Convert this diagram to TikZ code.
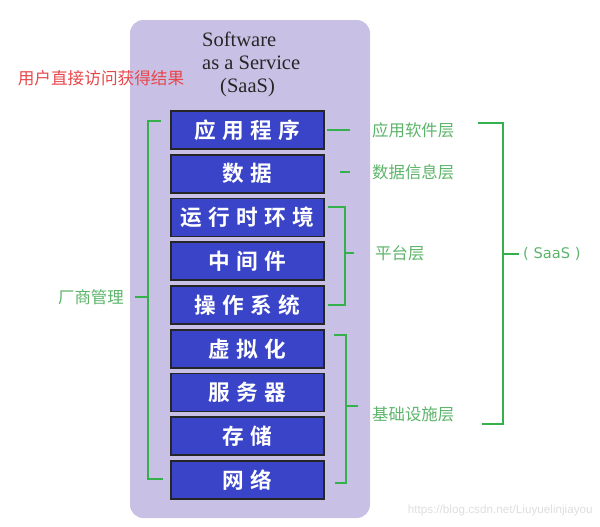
\documentclass[tikz,border=0pt]{standalone}
\usepackage{fontspec}
\setmainfont{Liberation Serif}
\newfontfamily\cjk{Noto Sans CJK SC}
\newfontfamily\cjkbold[LetterSpace=30]{Noto Sans CJK SC Bold}
\newfontfamily\saasfont{DejaVu Sans}
\newfontfamily\markfont{Liberation Sans}
\definecolor{panelpurple}{RGB}{201,193,229}
\definecolor{layerblue}{RGB}{58,68,200}
\definecolor{bracegreen}{RGB}{52,176,76}
\definecolor{labelgreen}{RGB}{92,180,106}
\definecolor{userred}{RGB}{232,70,74}

\begin{document}
\begin{tikzpicture}
  [x=0.03cm,y=-0.03cm,every node/.style={inner sep=0pt}]
  \tikzstyle{layer} = [draw=black!85,line width=1.5pt,fill=layerblue,
    minimum width=4.59cm,minimum height=1.14cm,text=white,
    font=\cjkbold\fontsize{18.5}{18.5}\selectfont]
  \tikzstyle{tier} = [text=labelgreen,anchor=west,
    font=\cjk\fontsize{14}{14}\selectfont]
  \tikzstyle{brace} = [draw=bracegreen,line width=1.8pt]
  \useasboundingbox (0,0) rectangle (600,526);
  \fill[panelpurple,rounded corners=0.4cm] (130,20) rectangle (370,518);
  \node[align=left,anchor=west,text=black!85,font=\fontsize{17.5}{19.6}\selectfont] (title)
    at (202,64) {Software\\as a Service\\\hspace*{0.54cm}(SaaS)};
  \node[text=userred,font=\cjk\fontsize{14.2}{14.2}\selectfont] (user) at (101,78)
    {用户直接访问获得结果};
  % the nine layers
  \foreach \name/\text [count=\i from 0] in {b1/应用程序,b2/数据,b3/运行时环境,
      b4/中间件,b5/操作系统,b6/虚拟化,b7/服务器,b8/存储,b9/网络}
    \node[layer] (\name) at (247.5,{130+43.75*\i}) {\text};

  % vendor side
  \node[tier,anchor=east] (vendor) at (124,297) {厂商管理};
  \coordinate (vt) at (148,121);
  \coordinate (vb) at (148,479);
  \draw[brace] ([xshift=-8]b1.west |- vt) -- (vt) -- (vb) -- ([xshift=-6]b9.west |- vb);
  \draw[brace] ([xshift=0.33cm]vendor.east) -- (vt |- vendor.east);

  % layer names
  \node[tier] (app) at (372,130) {应用软件层};
  \node[tier] (data) at (372,172) {数据信息层};
  \node[tier] (plat) at (375,253) {平台层};
  \node[tier] (infra) at (372,414) {基础设施层};
  \draw[brace] ([xshift=2]b1.east |- app.west) -- ([xshift=-19]app.west);
  \draw[brace] ([xshift=13]b2.east |- data.west) -- ([xshift=-19]data.west);

  \coordinate (pt) at (345,207);
  \coordinate (pb) at (345,305);
  \draw[brace] ([xshift=3]b3.east |- pt) -- (pt) -- (pb) -- ([xshift=3]b5.east |- pb);
  \draw[brace] (pt |- plat.west) -- ([xshift=-18]plat.west);

  \coordinate (it) at (346,335);
  \coordinate (ib) at (346,483);
  \draw[brace] ([xshift=8]b6.east |- it) -- (it) -- (ib) -- ([xshift=9]b9.east |- ib);
  \draw[brace] (346,406) -- (358,406);

  % the whole SaaS stack
  \node[tier,font=\saasfont\fontsize{12.5}{12.5}\selectfont] (saas) at (523,254) {( SaaS )};
  \coordinate (st) at (503,123);
  \coordinate (sb) at (503,424);
  \draw[brace] (478,123) -- (st) -- (sb) -- (482,424);
  \draw[brace] (st |- saas.west) -- ([xshift=-3]saas.west);

  \node[text=black!13,anchor=east,font=\markfont\fontsize{10}{10}\selectfont] (mark)
    at (593,510) {https://blog.csdn.net/Liuyuelinjiayou};
\end{tikzpicture}
\end{document}
